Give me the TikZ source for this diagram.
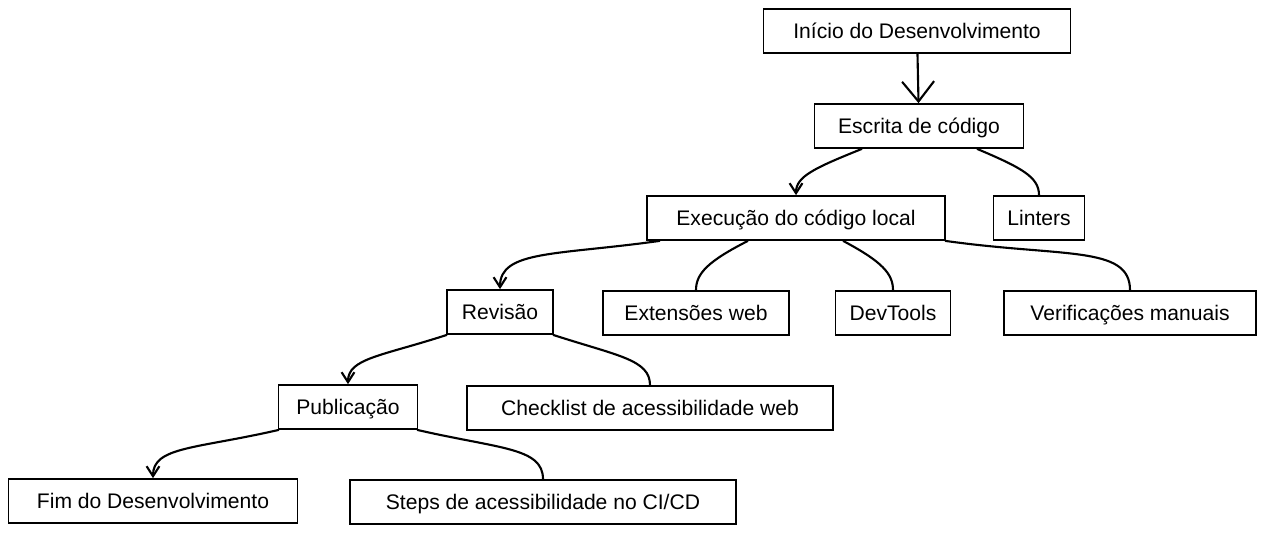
\documentclass[tikz,border=0pt]{standalone}
\usepackage{fontspec}
\setmainfont{Liberation Sans}
\usetikzlibrary{arrows.meta}

\def\boxh{1.1}
\def\px{0.025}

\begin{document}
\begin{tikzpicture}[
    box/.style={draw, line width=1.2pt, minimum height=\boxh cm,
      inner sep=0pt, text height=12pt, text depth=1pt,
      font=\fontsize{15}{18}\selectfont},
    flow/.style={line width=1.5pt, -{Straight Barb[length=2.5mm,width=3.2mm]}},
    side/.style={line width=1.5pt}
  ]
    \useasboundingbox (0,0) rectangle (1267*\px,-534*\px);

    \foreach \name/\x/\y/\w/\txt in {
        inicio/917/31/307/Início do Desenvolvimento,
        escrita/919/126/209/Escrita de código,
        execucao/796/218/298/Execução do código local,
        linters/1039/218/91/Linters,
        revisao/500/312/106/Revisão,
        extensoes/696/313/186/Extensões web,
        devtools/893/313/115/DevTools,
        verificacoes/1130/313/252/Verificações manuais,
        publicacao/348/407/139/Publicação,
        checklist/650/408/366/Checklist de acessibilidade web,
        fim/153/501/289/Fim do Desenvolvimento,
        steps/543/502/386/{Steps de acessibilidade no CI/CD}} {
      \node[box, minimum width=\w*\px cm] (\name) at (\x*\px,-\y*\px) {\txt};
    }

    \draw[line width=1.5pt, -{Straight Barb[length=5mm,width=8mm]}]
      (inicio) -- (escrita);

    % ramos com seta
    \foreach \a/\dx/\b/\ang in {escrita/-57/execucao/202,
        execucao/-136/revisao/188,
        revisao/-53/publicacao/198,
        publicacao/-69/fim/193} {
      \draw[flow] ([xshift=\dx*\px cm]\a.south)
        to[out=\ang, in=90, out looseness=1.6, in looseness=0.6] (\b.north);
    }

    % ramos sem seta
    \foreach \a/\dx/\b/\ang in {escrita/58/linters/-23,
        execucao/-48/extensoes/207,
        execucao/47/devtools/-28,
        execucao/149/verificacoes/-8,
        revisao/53/checklist/-18,
        publicacao/69/steps/-13} {
      \draw[side] ([xshift=\dx*\px cm]\a.south)
        to[out=\ang, in=90, out looseness=1.6, in looseness=0.6] (\b.north);
    }
\end{tikzpicture}
\end{document}
